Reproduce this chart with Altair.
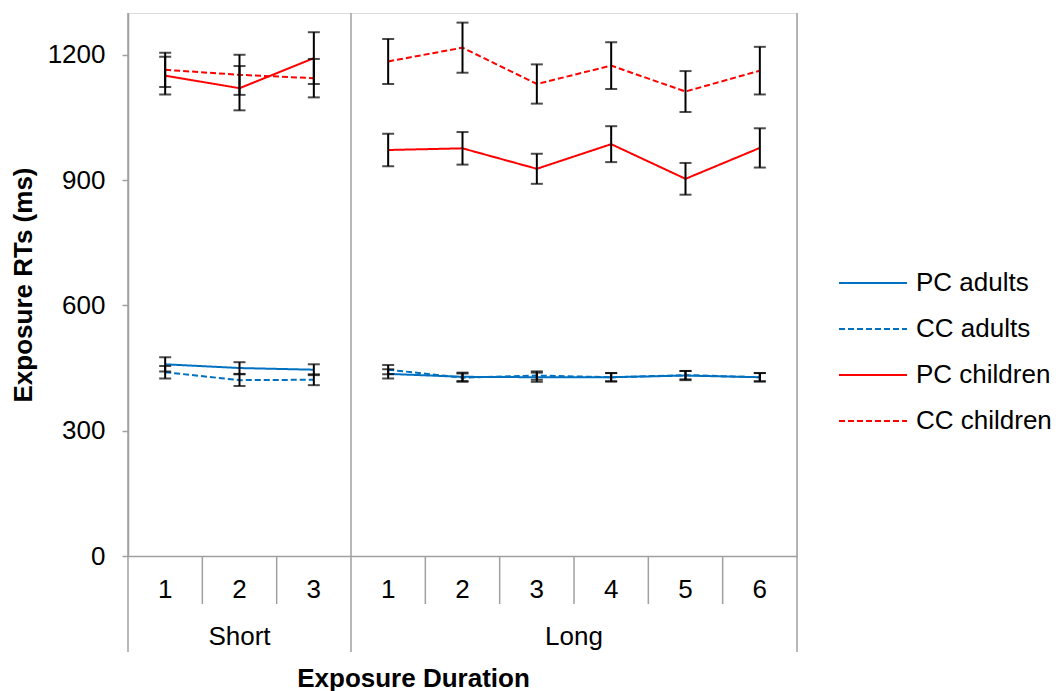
import altair as alt
import pandas as pd

# ---------------- data ----------------
group_names = ["Short", "Long"]
short_trials = ["1", "2", "3"]
long_trials = ["1", "2", "3", "4", "5", "6"]

series_names = ["PC adults", "CC adults", "PC children", "CC children"]
series_colors = ["#0070C0", "#0070C0", "#FF0000", "#FF0000"]
series_dashes = [[1, 0], [6, 3], [1, 0], [6, 3]]

pc_adults = [459, 450, 446, 436, 429, 428, 428, 432, 428]
cc_adults = [440, 421, 422, 446, 427, 432, 428, 433, 428]
pc_children = [1150, 1120, 1192, 972, 976, 927, 986, 903, 977]
cc_children = [1164, 1152, 1144, 1184, 1217, 1130, 1174, 1112, 1162]

pc_adults_err = [17, 14, 13, 11, 10, 11, 10, 11, 10]
cc_adults_err = [15, 14, 13, 11, 10, 10, 10, 10, 10]
pc_children_err = [45, 53, 62, 39, 39, 36, 43, 38, 47]
cc_children_err = [41, 48, 46, 54, 60, 47, 56, 49, 57]

y_ticks = [0, 300, 600, 900, 1200]

# ---------------- tables ----------------
cat_group = ["Short"] * len(short_trials) + ["Long"] * len(long_trials)
cat_label = short_trials + long_trials
n_cat = len(cat_label)
cat_pos = [i + 0.5 for i in range(n_cat)]

rows = []
for name, means, errs in zip(
    series_names,
    [pc_adults, cc_adults, pc_children, cc_children],
    [pc_adults_err, cc_adults_err, pc_children_err, cc_children_err],
):
    for g, lab, p, m, e in zip(cat_group, cat_label, cat_pos, means, errs):
        rows.append(dict(series=name, group=g, trial=lab, pos=p, mean=m, lo=m - e, hi=m + e))
df = pd.DataFrame(rows)

cat_df = pd.DataFrame({"pos": cat_pos, "label": cat_label})
grp_sizes = [len(short_trials), len(long_trials)]
grp_bounds = [0, grp_sizes[0], grp_sizes[0] + grp_sizes[1]]
grp_df = pd.DataFrame({
    "pos": [grp_bounds[i] + grp_sizes[i] / 2 for i in range(2)],
    "label": group_names,
})
inner_df = pd.DataFrame({"b": [b for b in range(n_cat + 1) if b not in grp_bounds]})
outer_df = pd.DataFrame({"b": grp_bounds})

# ---------------- layout ----------------
W, H = 669, 543
GRAY = "#A0A0A0"
FONT = "Liberation Sans"
FS = 26

xs = alt.Scale(domain=[0, n_cat], nice=False, zero=False)
ys = alt.Scale(domain=[0, 1300], nice=False)

x_axis = alt.Axis(labels=False, ticks=False, domain=True, domainColor=GRAY, domainWidth=1.5,
                  grid=False, title="Exposure Duration", titleFontSize=26, titleFont=FONT,
                  titleFontWeight="bold", titleColor="black", titleX=285, titleY=122,
                  titleBaseline="middle")
y_axis = alt.Axis(values=y_ticks, format="d", domainColor=GRAY, domainWidth=1.5, tickColor=GRAY,
                  tickWidth=1.5, tickSize=6, labelFontSize=FS, labelFont=FONT,
                  labelColor="black", labelPadding=17, grid=False,
                  title="Exposure RTs (ms)", titleFontSize=26, titleFont=FONT,
                  titleFontWeight="bold", titleColor="black", titleX=-105, titleY=H / 2,
                  titleAngle=270, titleBaseline="middle")

X = alt.X("pos:Q", scale=xs, axis=x_axis, title="Exposure Duration")

legend = alt.Legend(orient="none", legendX=710, legendY=247, symbolType="stroke",
                    symbolSize=4624, symbolStrokeWidth=2, labelFontSize=FS, labelFont=FONT,
                    labelColor="black", rowPadding=0, clipHeight=46, labelOffset=8,
                    padding=0, title=None)

base = alt.Chart(df)

lines = base.mark_line(strokeWidth=2).encode(
    x=X,
    y=alt.Y("mean:Q", scale=ys, axis=y_axis, title="Exposure RTs (ms)"),
    color=alt.Color("series:N", scale=alt.Scale(domain=series_names, range=series_colors),
                    legend=legend, title=None),
    strokeDash=alt.StrokeDash("series:N", scale=alt.Scale(domain=series_names, range=series_dashes),
                              legend=legend, title=None),
    detail="group:N",
)

errs = base.mark_errorbar(color="black", thickness=2, ticks={"size": 12, "thickness": 2}).encode(
    x=X,
    y=alt.Y("lo:Q", scale=ys, axis=y_axis, title="Exposure RTs (ms)"),
    y2="hi:Q",
    detail="series:N",
)

inner_rules = alt.Chart(inner_df).mark_rule(color=GRAY, strokeWidth=1.5).encode(
    x=alt.X("b:Q", scale=xs, axis=x_axis, title="Exposure Duration"),
    y=alt.value(H), y2=alt.value(H + 48),
)
outer_rules = alt.Chart(outer_df).mark_rule(color=GRAY, strokeWidth=1.5).encode(
    x=alt.X("b:Q", scale=xs, axis=x_axis, title="Exposure Duration"),
    y=alt.value(0), y2=alt.value(H + 96),
)

cat_text = alt.Chart(cat_df).mark_text(fontSize=FS, font=FONT, color="black", baseline="middle").encode(
    x=alt.X("pos:Q", scale=xs, axis=x_axis, title="Exposure Duration"),
    y=alt.value(H + 34),
    text="label:N",
)
grp_text = alt.Chart(grp_df).mark_text(fontSize=FS, font=FONT, color="black", baseline="middle").encode(
    x=alt.X("pos:Q", scale=xs, axis=x_axis, title="Exposure Duration"),
    y=alt.value(H + 81),
    text="label:N",
)

chart = alt.layer(outer_rules, inner_rules, lines, errs, cat_text, grp_text).properties(
    width=W, height=H,
    autosize=alt.AutoSizeParams(type="none"),
    padding={"left": 120, "top": 5, "right": 257, "bottom": 135},
).configure_view(stroke=None).configure(background="white")

chart.save("out.html", embed_options={"renderer": "svg", "actions": False})
